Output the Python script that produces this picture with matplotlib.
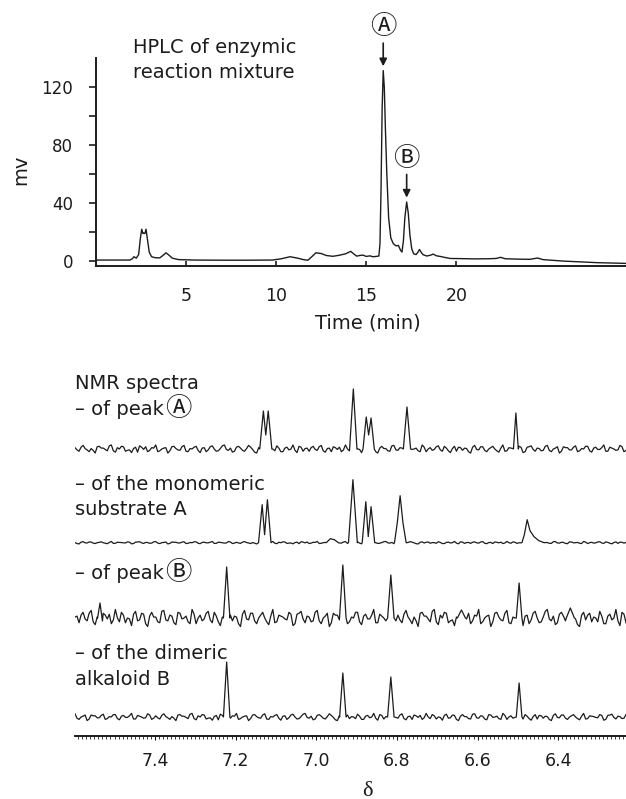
import numpy as np
import matplotlib
matplotlib.use('Agg')
import matplotlib.pyplot as plt
from matplotlib.ticker import MultipleLocator

plt.rcParams['font.family'] = ['DejaVu Sans', 'Noto Sans CJK JP']

# HPLC trace: time (min) and signal (mV)
hplc_time = [0.0, 1.9, 2.02, 2.12, 2.25, 2.38, 2.47, 2.55, 2.62, 2.67, 2.73, 2.79, 2.88, 2.97,
             3.1, 3.3, 3.55, 3.72, 3.9, 4.05, 4.25, 4.6, 5.5, 7.0, 8.5, 9.8, 10.3, 10.77, 11.2,
             11.55, 11.77, 11.98, 12.21, 12.5, 12.8, 13.15, 13.5, 13.85, 14.14, 14.3, 14.47,
             14.65, 14.82, 15.0, 15.2, 15.37, 15.55, 15.7, 15.76, 15.82, 15.88, 15.94, 16.0,
             16.06, 16.14, 16.24, 16.36, 16.5, 16.65, 16.78, 16.9, 16.98, 17.06, 17.14, 17.24,
             17.33, 17.42, 17.52, 17.63, 17.76, 17.86, 17.95, 18.05, 18.15, 18.35, 18.55, 18.71,
             18.9, 19.1, 19.4, 19.64, 20.2, 21.0, 21.8, 22.2, 22.45, 22.7, 23.5, 24.07, 24.5,
             24.8, 25.9, 27.8, 29.4]
hplc_mv = [0.7, 0.7, 1.5, 3.0, 2.0, 4.5, 15.0, 22.0, 19.0, 19.3, 19.0, 22.0, 14.0, 6.0,
           3.0, 2.3, 2.2, 3.8, 5.7, 4.2, 2.0, 1.0, 0.7, 0.6, 0.6, 0.7, 1.6, 3.0, 2.0,
           0.9, 0.6, 3.0, 5.7, 5.2, 3.8, 3.3, 4.0, 5.0, 6.7, 5.0, 3.4,
           3.9, 4.1, 3.2, 3.6, 3.0, 3.2, 3.5, 12.0, 50.0, 105.0, 131.5, 120.0,
           92.0, 60.0, 30.0, 16.0, 12.0, 10.5, 10.8, 7.5, 6.2, 14.0, 30.0, 40.8,
           33.0, 18.0, 8.5, 5.0, 4.5, 6.0, 8.0, 6.0, 4.4, 3.5, 4.0, 4.8,
           3.6, 3.2, 2.4, 1.8, 1.7, 1.5, 1.6, 1.8, 2.6, 1.6, 1.3, 1.2, 2.1,
           1.0, 0.0, -1.1, -1.6]
hplc_ticks = [5, 10, 15, 20]
mv_ticks = [0, 40, 80, 120]
peak_names = ['Ⓐ', 'Ⓑ']
peak_apex_idx = [51, 64]   # apex points of peaks A and B in the lists above

# NMR: baseline noise (hand read, relative units), two interleaved runs
noise = [
    0.3, -0.5, 0.8, -0.2, 0.1, -0.9, 0.6, 0.2, -0.4, 0.9,
    -0.7, 0.0, 0.5, -0.3, -0.8, 0.4, 0.7, -0.1, -0.6, 0.3,
    0.9, -0.4, 0.2, -0.9, 0.5, 0.1, -0.3, 0.8, -0.6, 0.0,
    0.6, -0.8, 0.3, -0.2, 0.7, -0.5, 0.1, 0.9, -0.3, -0.7,
    0.4, 0.2, -0.5, 0.8, -0.1, -0.9, 0.6, 0.3, -0.4, 0.0,
    0.7, -0.6, 0.2, -0.2, 0.9, -0.8, 0.4, 0.1, -0.5, 0.6,
    -0.3, 0.8, -0.7, 0.2, 0.5, -0.1, -0.6, 0.9, -0.4, 0.3,
    0.0, -0.8, 0.7, -0.2, 0.4, -0.9, 0.6, 0.1, -0.5, 0.8,
    -0.3, 0.2, -0.7, 0.5, 0.0, -0.4, 0.9, -0.6, 0.3, -0.1,
    0.7, -0.5, 0.2, -0.8, 0.6, 0.4, -0.3, 0.1, -0.9, 0.8,
    -0.2, 0.5, -0.6, 0.3, 0.0, -0.7, 0.9, -0.4, 0.2, -0.1,
    0.6, -0.8, 0.4, 0.7, -0.5, 0.1, -0.3, 0.8, -0.6, 0.2,
    -0.9, 0.5, 0.3, -0.2, 0.7, -0.4, 0.0, 0.6, -0.7, 0.4,
    -0.1, 0.9, -0.5, 0.2, -0.3, 0.8, -0.6,
]
noise2 = [
    -0.2, 0.4, 0.1, -0.6, -0.3, 0.5, 0.2, -0.1, 0.7, -0.4,
    0.3, 0.6, -0.5, -0.2, 0.1, -0.7, 0.4, 0.5, -0.3, 0.2,
    -0.6, 0.0, 0.3, -0.4, 0.6, -0.2, 0.5, -0.5, 0.1, 0.4,
    -0.3, 0.2, -0.6, 0.5, 0.0, -0.4, 0.7, -0.1, 0.2, -0.5,
    0.6, -0.3, 0.1, 0.4, -0.7, 0.3, -0.2, 0.5, 0.1, -0.4,
    0.2, -0.6, 0.4, 0.0, -0.3, 0.6, -0.5, 0.2, 0.3, -0.1,
    0.5, -0.4, 0.1, -0.6, 0.3, 0.4, -0.2, 0.0, 0.6, -0.5,
    -0.1, 0.4, -0.3, 0.5, -0.6, 0.2, 0.1, -0.4, 0.7, -0.2,
    0.3, -0.5, 0.6, -0.1, 0.2, -0.6, 0.4, 0.0, -0.3, 0.5,
    -0.2, 0.6, -0.4, 0.1, -0.5, 0.3, 0.2, -0.6, 0.4, -0.1,
    0.5, -0.3, 0.0, 0.6, -0.4, 0.2, -0.5, 0.3, 0.1, -0.2,
    0.4, -0.6, 0.5, -0.1, 0.2, -0.4, 0.6, -0.3, 0.0, 0.5,
    -0.5, 0.3, -0.2, 0.4, -0.6, 0.1, 0.6, -0.4, 0.2, -0.1,
    0.3, -0.5, 0.4, 0.0, -0.2, 0.5, -0.3,
]

# peak outlines: (ppm, height above baseline)
peaks_peakA = [
    [(7.140, 0), (7.131, 38), (7.125, 14), (7.119, 38), (7.110, 0)],
    [(6.917, 0), (6.908, 60), (6.899, 0)],
    [(6.884, 0), (6.876, 32), (6.870, 14), (6.864, 31), (6.856, 0)],
    [(6.784, 0), (6.775, 42), (6.766, 0)],
    [(6.511, 0), (6.505, 36), (6.499, 0)],
]
peaks_substrateA = [
    [(7.143, 0), (7.134, 38), (7.128, 8), (7.121, 43), (7.112, 0)],
    [(6.975, 0), (6.965, 4), (6.955, 3), (6.945, 0)],
    [(6.920, 0), (6.909, 63), (6.898, 0)],
    [(6.886, 0), (6.877, 41), (6.871, 6), (6.864, 36), (6.855, 0)],
    [(6.806, 0), (6.799, 20), (6.792, 47), (6.785, 20), (6.777, 0)],
    [(6.490, 0), (6.484, 8), (6.477, 23), (6.470, 12), (6.460, 6), (6.448, 2), (6.435, 0)],
]
peaks_peakB = [
    [(7.542, 0), (7.536, 15), (7.530, -3)],
    [(7.230, 0), (7.222, 51), (7.214, 0)],
    [(6.942, 0), (6.934, 53), (6.926, 0)],
    [(6.823, 0), (6.815, 43), (6.807, 0)],
    [(6.650, 0), (6.640, 8), (6.630, 0)],
    [(6.504, 0), (6.497, 35), (6.490, 0)],
    [(6.380, 0), (6.370, 10), (6.360, 0)],
]
peaks_dimerB = [
    [(7.230, 0), (7.222, 55), (7.214, 0)],
    [(6.942, 0), (6.934, 44), (6.926, 0)],
    [(6.823, 0), (6.815, 40), (6.807, 0)],
    [(6.504, 0), (6.497, 34), (6.490, 0)],
]
nmr_ticks = [7.4, 7.2, 7.0, 6.8, 6.6, 6.4]

ink = '#1c1c1c'
W, H = 626, 799
ppm_left, ppm_right = 7.598, 6.232


def fx(px):
    return px / W


def fy(py):
    return 1 - py / H


def build_trace(peaks, scale, shift):
    base = np.ravel(np.column_stack([noise, noise2]))
    x = np.linspace(ppm_left, ppm_right, len(base))
    y = np.roll(base, shift) * scale
    keep = np.ones(len(x), dtype=bool)
    for pk in peaks:
        p = [v[0] for v in pk]
        keep &= ~((x <= max(p)) & (x >= min(p)))
    xs = list(x[keep])
    ys = list(y[keep])
    for pk in peaks:
        xs += [v[0] for v in pk]
        ys += [v[1] for v in pk]
    order = np.argsort(xs)
    return np.array(xs)[order], np.array(ys)[order]


fig = plt.figure(figsize=(6.26, 7.99), dpi=100)

# --- HPLC chromatogram ---
ax1 = fig.add_axes([fx(95.7), fy(265.7), 1 - fx(95.7), (265.7 - 58.3) / H])
ax1.plot(hplc_time, hplc_mv, color=ink, lw=1.0)
ax1.set_xlim(0, 29.4)
ax1.set_ylim(-3.2, 140)
for s in ['top', 'right']:
    ax1.spines[s].set_visible(False)
for s in ['left', 'bottom']:
    ax1.spines[s].set_linewidth(1.4)
    ax1.spines[s].set_color(ink)
ax1.set_yticks(mv_ticks)
ax1.set_yticks([20, 60, 100], minor=True)
ax1.set_xticks(hplc_ticks)
ax1.tick_params(axis='y', which='both', direction='out', length=5.3, width=1.2,
                pad=11, labelsize=12, colors=ink)
ax1.tick_params(axis='x', direction='in', length=3.6, width=1.2, pad=15,
                labelsize=12.5, colors=ink)

for name, idx in zip(peak_names, peak_apex_idx):
    t, h = hplc_time[idx], hplc_mv[idx]
    ax1.annotate('', xy=(t, h + 3), xytext=(t, h + 19), annotation_clip=False,
                 arrowprops=dict(arrowstyle='-|>', color=ink, lw=1.2,
                                 mutation_scale=11, shrinkA=0, shrinkB=0))
    ax1.text(t, h + 30, name, ha='center', va='center', fontsize=19,
             color=ink, clip_on=False)

fig.text(fx(133), fy(53.3), 'HPLC of enzymic', fontsize=14, color=ink, va='baseline')
fig.text(fx(133), fy(78.3), 'reaction mixture', fontsize=14, color=ink, va='baseline')
fig.text(fx(20.7), fy(170), 'mv', fontsize=14, color=ink, rotation=90,
         ha='center', va='center')
fig.text(fx(368), fy(328), 'Time (min)', fontsize=14, color=ink, ha='center',
         va='baseline')

# --- NMR spectra ---
ax2 = fig.add_axes([fx(75), fy(735.7), 1 - fx(75), (735.7 - 360) / H])
spectra = [(peaks_peakA, 4.5, 0, 286.7),
           (peaks_substrateA, 1.4, 80, 193.0),
           (peaks_peakB, 9.5, 160, 117.7),
           (peaks_dimerB, 4.0, 40, 18.7)]
for peaks, scale, shift, offset in spectra:
    xs, ys = build_trace(peaks, scale, shift)
    ax2.plot(xs, ys + offset, color=ink, lw=0.9)
ax2.set_xlim(ppm_left, ppm_right)
ax2.set_ylim(0, 375.7)
for s in ['top', 'right', 'left']:
    ax2.spines[s].set_visible(False)
ax2.spines['bottom'].set_linewidth(1.4)
ax2.spines['bottom'].set_color(ink)
ax2.set_yticks([])
ax2.set_xticks(nmr_ticks)
ax2.set_xticklabels([f'{v:.1f}' for v in nmr_ticks])
ax2.xaxis.set_minor_locator(MultipleLocator(0.01))
ax2.tick_params(axis='x', which='major', direction='out', length=2.8, width=0.8,
                pad=9, labelsize=12.5, colors=ink)
ax2.tick_params(axis='x', which='minor', direction='out', length=2.3, width=0.6,
                colors=ink)

nmr_labels = [('NMR spectra', 389, ''), ('– of peak', 415, 'Ⓐ'),
              ('– of the monomeric', 490, ''), ('substrate A', 515, ''),
              ('– of peak', 579, 'Ⓑ'), ('– of the dimeric', 659, ''),
              ('alkaloid B', 685, '')]
for txt, y, mark in nmr_labels:
    t = fig.text(fx(75), fy(y), txt, fontsize=14, color=ink, va='baseline')
    if mark:
        ax2.annotate(mark, xy=(1, 0), xycoords=t, xytext=(1, -2.5),
                     textcoords='offset points', ha='left', va='bottom',
                     fontsize=19, color=ink, annotation_clip=False)

fig.text(fx(367), fy(791), 'δ', fontsize=16, family='Liberation Serif',
         color=ink, ha='center', va='center')

fig.savefig('out.png', dpi=100)
